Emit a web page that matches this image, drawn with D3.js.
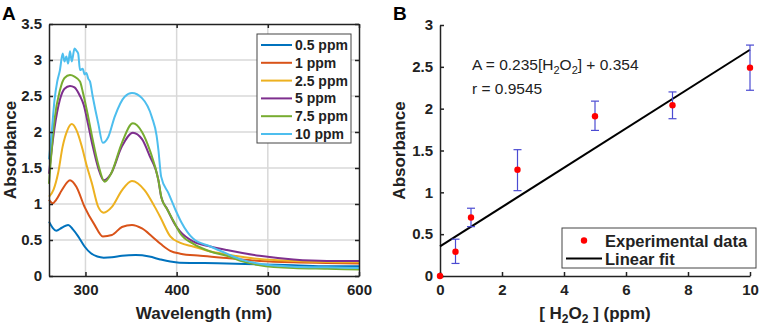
<!DOCTYPE html>
<html>
<head>
<meta charset="utf-8">
<script src="https://cdn.jsdelivr.net/npm/d3@7"></script>
<style>
  body { margin: 0; background: #fff; }
  svg { font-family: "Liberation Sans", Arial, sans-serif; }
</style>
</head>
<body>
<svg id="chart" width="761" height="330"></svg>
<script>
// ---- panel A: absorption spectra, [wavelength nm, absorbance]
const seriesNames = ["0.5 ppm", "1 ppm", "2.5 ppm", "5 ppm", "7.5 ppm", "10 ppm"];
const seriesColors = ["#0072bd", "#d95319", "#edb120", "#7e2f8e", "#77ac30", "#4dbeee"];

const spec05 = [[260,0.755],[264,0.67],[268,0.63],[274,0.67],[281,0.71],[286,0.65],[292,0.55],[299,0.41],[306,0.315],[313,0.27],[320,0.255],[329,0.26],[340,0.28],[355,0.29],[370,0.27],[382,0.23],[393,0.2],[403,0.185],[455,0.175],[491,0.16],[528,0.15],[565,0.135],[600,0.135]];
const spec1 = [[260,1.06],[264,1.01],[268,1.06],[274,1.19],[283,1.33],[290,1.24],[299,0.96],[310,0.71],[319,0.55],[329,0.57],[340,0.68],[351,0.71],[362,0.66],[373,0.55],[383,0.44],[393,0.35],[404,0.31],[426,0.28],[455,0.25],[491,0.21],[528,0.19],[565,0.18],[600,0.175]];
const spec25 = [[260,1.1],[265,1.2],[270,1.43],[275,1.8],[280,2.02],[285,2.11],[290,2.03],[296,1.8],[301,1.55],[307,1.29],[314,0.96],[320,0.88],[329,0.96],[340,1.19],[351,1.32],[365,1.19],[376,0.96],[382,0.82],[393,0.55],[404,0.46],[418,0.41],[437,0.34],[455,0.3],[491,0.235],[528,0.21],[565,0.195],[600,0.19]];
const spec5 = [[260,1.42],[266,2.05],[272,2.45],[277,2.6],[283,2.64],[288,2.62],[294,2.5],[298,2.38],[303,2.1],[308,1.8],[314,1.5],[320,1.33],[328,1.42],[340,1.8],[352,1.99],[362,1.9],[370,1.68],[380,1.33],[383,1.1],[390,0.92],[398,0.72],[404,0.615],[418,0.48],[437,0.41],[455,0.36],[491,0.28],[528,0.23],[565,0.21],[600,0.21]];
const spec75 = [[260,1.28],[266,2.17],[272,2.58],[277,2.75],[283,2.79],[288,2.77],[294,2.7],[297,2.56],[303,2.21],[308,1.89],[314,1.55],[321,1.31],[328,1.42],[340,1.85],[352,2.12],[362,2.0],[371,1.73],[380,1.33],[383.5,1.08],[389,0.94],[398,0.73],[404,0.59],[418,0.45],[437,0.34],[455,0.28],[473,0.2],[491,0.15],[528,0.11],[565,0.1],[600,0.09]];
const spec10 = [[260,1.62],[263,2.0],[266,2.44],[269,2.7],[272,2.86],[275,3.09],[277,2.98],[279,3.05],[281,2.95],[283,3.12],[285,2.98],[288,3.16],[290,3.13],[292,3.09],[294,2.86],[297,2.88],[299,2.8],[301,2.82],[303,2.74],[305,2.7],[308,2.49],[314,2.12],[319,1.85],[325,1.93],[332,2.21],[343,2.49],[351,2.54],[362,2.47],[373,2.2],[378,1.95],[380,1.75],[383,1.38],[391,1.15],[398,0.94],[405,0.75],[418,0.52],[437,0.41],[455,0.31],[473,0.22],[491,0.17],[528,0.13],[565,0.12],[600,0.11]];
const spectra = [spec05, spec1, spec25, spec5, spec75, spec10];

const xTicksA = [300, 400, 500, 600];
const yTicksA = [0, 0.5, 1, 1.5, 2, 2.5, 3, 3.5];

// ---- panel B: calibration
const conc = [0, 0.5, 1, 2.5, 5, 7.5, 10];
const absMean = [0, 0.29, 0.70, 1.27, 1.91, 2.04, 2.49];
const errLow = [0, 0.15, 0.59, 1.02, 1.74, 1.88, 2.22];
const errHigh = [0, 0.44, 0.81, 1.51, 2.09, 2.20, 2.76];
const fitSlope = 0.235, fitIntercept = 0.354;
const xTicksB = [0, 2, 4, 6, 8, 10];
const yTicksB = [0, 0.5, 1, 1.5, 2, 2.5, 3];

const svg = d3.select("#chart");
const tickLen = 4;
const fmt = d3.format("~g");

function styleAxis(g) {
  g.select(".domain").attr("stroke", "#222").attr("stroke-width", 1.5);
  g.selectAll(".tick line").attr("stroke", "#222").attr("stroke-width", 1.5);
  g.selectAll(".tick text").attr("fill", "#222").attr("font-size", 15).attr("font-weight", "bold")
    .attr("font-family", "Liberation Sans, Arial, sans-serif");
}

// ================= panel A =================
const A = { left: 49, right: 359, top: 24, bottom: 276 };
const xA = d3.scaleLinear().domain([260, 600]).range([A.left, A.right]);
const yA = d3.scaleLinear().domain([0, 3.5]).range([A.bottom, A.top]);
const gA = svg.append("g");

// grid
gA.selectAll(".gx").data(xTicksA.slice(0, -1)).enter().append("line")
  .attr("x1", d => xA(d)).attr("x2", d => xA(d)).attr("y1", A.top).attr("y2", A.bottom)
  .attr("stroke", "#d8d8d8").attr("stroke-width", 1.5);
gA.selectAll(".gy").data(yTicksA.slice(1, -1)).enter().append("line")
  .attr("x1", A.left).attr("x2", A.right).attr("y1", d => yA(d)).attr("y2", d => yA(d))
  .attr("stroke", "#d8d8d8").attr("stroke-width", 1.5);

// curves
const lineA = d3.line().x(d => xA(d[0])).y(d => yA(d[1])).curve(d3.curveMonotoneX);
spectra.forEach((s, i) => {
  gA.append("path").datum(s).attr("fill", "none").attr("stroke", seriesColors[i])
    .attr("stroke-width", 2).attr("stroke-linejoin", "round").attr("d", lineA);
});

// box axes with inward ticks
const axA = [
  d3.axisBottom(xA).tickValues(xTicksA).tickSizeInner(-tickLen).tickSizeOuter(0).tickPadding(8).tickFormat(fmt),
  d3.axisTop(xA).tickValues(xTicksA).tickSizeInner(-tickLen).tickSizeOuter(0).tickFormat(""),
  d3.axisLeft(yA).tickValues(yTicksA).tickSizeInner(-tickLen).tickSizeOuter(0).tickPadding(7).tickFormat(fmt),
  d3.axisRight(yA).tickValues(yTicksA).tickSizeInner(-tickLen).tickSizeOuter(0).tickFormat("")
];
const posA = [`translate(0,${A.bottom})`, `translate(0,${A.top})`, `translate(${A.left},0)`, `translate(${A.right},0)`];
axA.forEach((ax, i) => styleAxis(gA.append("g").attr("transform", posA[i]).call(ax)));

gA.append("text").attr("x", (A.left + A.right) / 2).attr("y", 319).attr("text-anchor", "middle")
  .attr("font-size", 17).attr("font-weight", "bold").attr("fill", "#222").text("Wavelength (nm)");
gA.append("text").attr("transform", `translate(16,${(A.top + A.bottom) / 2}) rotate(-90)`).attr("text-anchor", "middle")
  .attr("font-size", 17).attr("font-weight", "bold").attr("fill", "#222").text("Absorbance");
gA.append("text").attr("x", 2).attr("y", 20).attr("font-size", 19).attr("font-weight", "bold").text("A");

// legend A
const legA = gA.append("g").attr("transform", "translate(257,34)");
legA.append("rect").attr("width", 94).attr("height", 109).attr("fill", "#fff").attr("stroke", "#444").attr("stroke-width", 1);
seriesNames.forEach((n, i) => {
  const yy = 11 + i * 17.8;
  legA.append("line").attr("x1", 4).attr("x2", 35).attr("y1", yy).attr("y2", yy)
    .attr("stroke", seriesColors[i]).attr("stroke-width", 2);
  legA.append("text").attr("x", 38).attr("y", yy + 5).attr("font-size", 14).attr("font-weight", "bold")
    .attr("fill", "#222").text(n);
});

// ================= panel B =================
const B = { left: 440, right: 750, top: 25, bottom: 276 };
const xB = d3.scaleLinear().domain([0, 10]).range([B.left, B.right]);
const yB = d3.scaleLinear().domain([0, 3]).range([B.bottom, B.top]);
const gB = svg.append("g");

styleAxis(gB.append("g").attr("transform", `translate(0,${B.bottom})`)
  .call(d3.axisBottom(xB).tickValues(xTicksB).tickSizeInner(-tickLen).tickSizeOuter(0).tickPadding(8).tickFormat(fmt)));
styleAxis(gB.append("g").attr("transform", `translate(${B.left},0)`)
  .call(d3.axisLeft(yB).tickValues(yTicksB).tickSizeInner(-tickLen).tickSizeOuter(0).tickPadding(7).tickFormat(fmt)));

// fit line
gB.append("line").attr("x1", xB(0)).attr("x2", xB(10))
  .attr("y1", yB(fitIntercept)).attr("y2", yB(fitIntercept + fitSlope * 10))
  .attr("stroke", "#000").attr("stroke-width", 2);

// error bars
const pts = conc.map((c, i) => ({ c, m: absMean[i], lo: errLow[i], hi: errHigh[i] }));
const eb = gB.selectAll(".eb").data(pts.filter(d => d.hi > d.lo)).enter().append("g").attr("stroke", "#4b4bd2").attr("stroke-width", 1.2);
eb.append("line").attr("x1", d => xB(d.c)).attr("x2", d => xB(d.c)).attr("y1", d => yB(d.lo)).attr("y2", d => yB(d.hi));
eb.append("line").attr("x1", d => xB(d.c) - 4).attr("x2", d => xB(d.c) + 4).attr("y1", d => yB(d.lo)).attr("y2", d => yB(d.lo));
eb.append("line").attr("x1", d => xB(d.c) - 4).attr("x2", d => xB(d.c) + 4).attr("y1", d => yB(d.hi)).attr("y2", d => yB(d.hi));

gB.selectAll(".pt").data(pts).enter().append("circle")
  .attr("cx", d => xB(d.c)).attr("cy", d => yB(d.m)).attr("r", 3.2).attr("fill", "#ff0000");

// annotation
const ann = gB.append("text").attr("x", 472).attr("y", 70).attr("font-size", 15.5).attr("fill", "#222");
ann.append("tspan").text("A = 0.235[H");
ann.append("tspan").attr("dy", 4).attr("font-size", 11).text("2");
ann.append("tspan").attr("dy", -4).text("O");
ann.append("tspan").attr("dy", 4).attr("font-size", 11).text("2");
ann.append("tspan").attr("dy", -4).text("] + 0.354");
gB.append("text").attr("x", 472).attr("y", 94).attr("font-size", 15.5).attr("fill", "#222").text("r = 0.9545");

// axis titles
const xt = gB.append("text").attr("x", 595).attr("y", 319).attr("text-anchor", "middle")
  .attr("font-size", 17).attr("font-weight", "bold").attr("fill", "#222");
xt.append("tspan").text("[ H");
xt.append("tspan").attr("dy", 4).attr("font-size", 12).text("2");
xt.append("tspan").attr("dy", -4).text("O");
xt.append("tspan").attr("dy", 4).attr("font-size", 12).text("2");
xt.append("tspan").attr("dy", -4).text(" ] (ppm)");
gB.append("text").attr("transform", `translate(405,${(B.top + B.bottom) / 2}) rotate(-90)`).attr("text-anchor", "middle")
  .attr("font-size", 17).attr("font-weight", "bold").attr("fill", "#222").text("Absorbance");
gB.append("text").attr("x", 393).attr("y", 20).attr("font-size", 19).attr("font-weight", "bold").text("B");

// legend B
const legB = gB.append("g").attr("transform", "translate(562,228)");
legB.append("rect").attr("width", 194).attr("height", 40).attr("fill", "#fff").attr("stroke", "#444").attr("stroke-width", 1);
legB.append("circle").attr("cx", 22).attr("cy", 12.5).attr("r", 3.2).attr("fill", "#ff0000");
legB.append("line").attr("x1", 4).attr("x2", 40).attr("y1", 30.5).attr("y2", 30.5).attr("stroke", "#000").attr("stroke-width", 2);
legB.append("text").attr("x", 43).attr("y", 18.5).attr("font-size", 16.5).attr("font-weight", "bold").attr("fill", "#222").text("Experimental data");
legB.append("text").attr("x", 43).attr("y", 36.5).attr("font-size", 16.5).attr("font-weight", "bold").attr("fill", "#222").text("Linear fit");
</script>
</body>
</html>
